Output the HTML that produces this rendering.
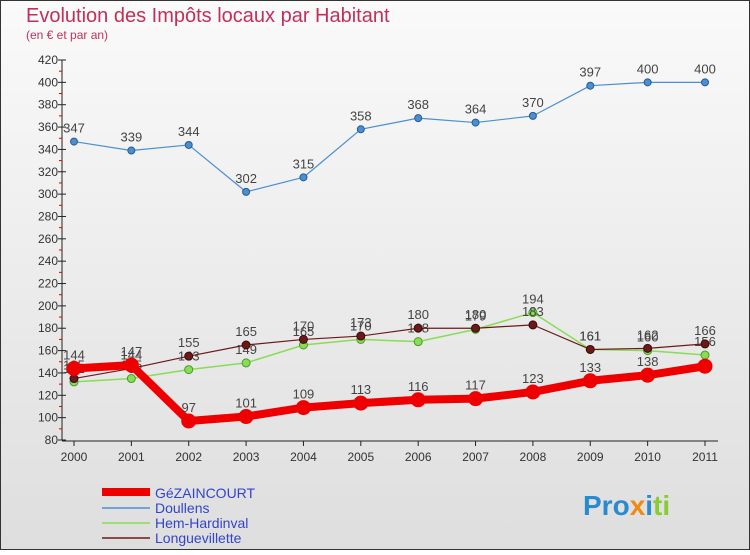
<!DOCTYPE html>
<html><head><meta charset="utf-8"><style>
body{margin:0;background:#fff;}
svg{font-family:"Liberation Sans",sans-serif;}
</style></head><body>
<svg id="chart" width="750" height="550" xmlns="http://www.w3.org/2000/svg">
<defs>
<linearGradient id="bg" x1="0" y1="0" x2="0" y2="1"><stop offset="0" stop-color="#fafafa"/><stop offset="1" stop-color="#dedede"/></linearGradient>
</defs>
<rect x="0.5" y="0.5" width="749" height="549" fill="url(#bg)" stroke="#333"/>
<text x="26" y="22" font-size="20" fill="#c0305a">Evolution des Impôts locaux par Habitant</text>
<text x="26" y="39" font-size="12" fill="#c0305a">(en € et par an)</text>
<g id="axes"></g>
<g id="series"></g>
<g id="legend">
<line x1="102" y1="492" x2="150" y2="492" stroke="#ee0000" stroke-width="8"/>
<text x="155" y="498" font-size="14" fill="#3344cc">GéZAINCOURT</text>
<line x1="102" y1="508" x2="150" y2="508" stroke="#4a90d0" stroke-width="1.5"/>
<text x="155" y="513" font-size="14" fill="#3344cc">Doullens</text>
<line x1="102" y1="523" x2="150" y2="523" stroke="#88dd55" stroke-width="1.5"/>
<text x="155" y="528" font-size="14" fill="#3344cc">Hem-Hardinval</text>
<line x1="102" y1="538" x2="150" y2="538" stroke="#6b1a1a" stroke-width="1.5"/>
<text x="155" y="543" font-size="14" fill="#3344cc">Longuevillette</text>
</g>
<text x="583" y="515" font-size="28" font-weight="bold"><tspan fill="#2a8ad0">Pro</tspan><tspan fill="#f08a10">x</tspan><tspan fill="#2a8ad0">i</tspan><tspan fill="#88cc33">ti</tspan></text>
</svg>
<script>
const years=[2000,2001,2002,2003,2004,2005,2006,2007,2008,2009,2010,2011];
const gezaincourt=[144,147,97,101,109,113,116,117,123,133,138,146];
const doullens=[347,339,344,302,315,358,368,364,370,397,400,400];
const hemHardinval=[132,135,143,149,165,170,168,179,194,161,160,156];
const longuevillette=[135,144,155,165,170,173,180,180,183,161,162,166];
const yTicks=[80,100,120,140,160,180,200,220,240,260,280,300,320,340,360,380,400,420];

const NS="http://www.w3.org/2000/svg";
const X=i=>74+i*(705-74)/11;
const Y=v=>60+(420-v)*380/340;
function mk(tag,attrs,parent){const e=document.createElementNS(NS,tag);for(const k in attrs)e.setAttribute(k,attrs[k]);parent.appendChild(e);return e;}
const ax=document.getElementById('axes');
const ya=mk('line',{x1:62,y1:Y(420),x2:62,y2:Y(80),stroke:'#222'},ax);


const xa=mk('line',{x1:62,y1:Y(80)+1,x2:718,y2:Y(80)+1,stroke:'#222'},ax);


yTicks.forEach((v,i)=>{
  const t=mk('text',{x:58,y:Y(v)+4,'font-size':12,fill:'#333','text-anchor':'end'},ax);t.textContent=v;
  
  
  mk('line',{x1:58,y1:Y(v),x2:66,y2:Y(v),stroke:'#222'},ax);
  if(i<yTicks.length-1){mk('line',{x1:59,y1:Y(v+10),x2:62,y2:Y(v+10),stroke:'#d00'},ax);}
});
years.forEach((yr,i)=>{
  mk('line',{x1:X(i),y1:Y(80)+1,x2:X(i),y2:Y(80)+6,stroke:'#222'},ax);
  const t=mk('text',{x:X(i),y:Y(80)+21,'font-size':12,fill:'#333','text-anchor':'middle'},ax);t.textContent=yr;
  
  
});
const sg=document.getElementById('series');
function draw(data,name,color,w,r,labels,dark){
  const g=mk('g',{},sg);
  
  
  const p=mk('polyline',{points:data.map((v,i)=>X(i)+','+Y(v)).join(' '),fill:'none',stroke:color,'stroke-width':w,'stroke-linejoin':'round'},g);
  
  
  data.forEach((v,i)=>{
    const c=mk('circle',{cx:X(i),cy:Y(v),r:r,fill:color,stroke:dark,'stroke-width':1},g);
    
    
    if(labels&&!(name==='gezaincourt'&&i===11)){
      const t=mk('text',{x:X(i),y:Y(v)-9,'font-size':13,fill:'#444','text-anchor':'middle'},g);t.textContent=v;
      
      
    }
  });
}
draw(doullens,'doullens','#4a90d0',1.2,3.5,true,'#2a5a90');
draw(hemHardinval,'hem-hardinval','#88dd55',1.5,4,true,'#4a9a2a');
draw(longuevillette,'longuevillette','#6b1a1a',1.2,4,true,'#3a0a0a');
draw(gezaincourt,'gezaincourt','#ee0000',8,7,true,'#ee0000');
</script>
</body></html>
